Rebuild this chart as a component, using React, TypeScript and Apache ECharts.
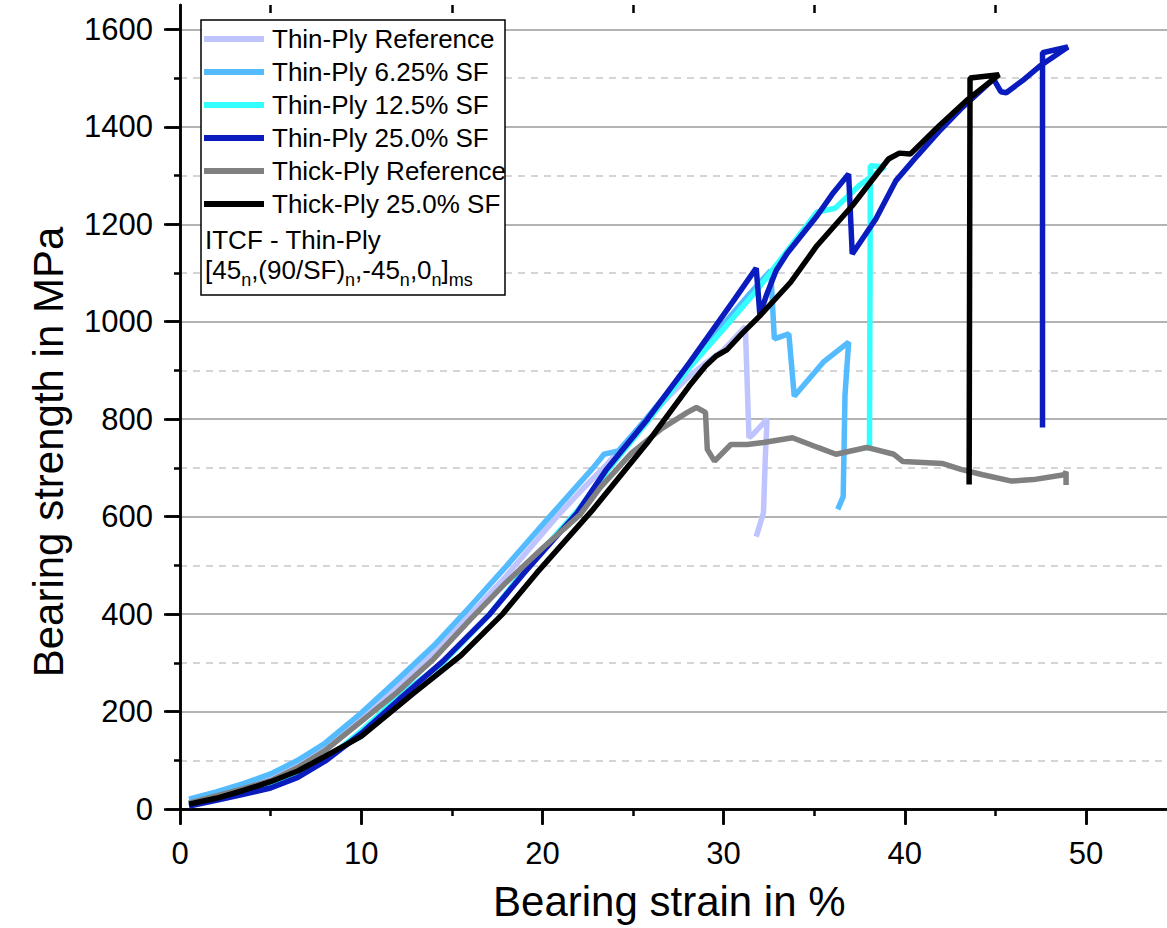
import React, { useEffect, useRef } from 'react';
import * as echarts from 'echarts';

const FONT = '"Liberation Sans", Arial, Helvetica, sans-serif';

// ---- tick values ----
const xMajorTicks = [0, 10, 20, 30, 40, 50];
const xMinorTicks = [5, 15, 25, 35, 45];
const yMajorTicks = [0, 200, 400, 600, 800, 1000, 1200, 1400, 1600];
const yMinorTicks = [100, 300, 500, 700, 900, 1100, 1300, 1500];

// ---- series names / colours ----
const seriesNames = [
  'Thin-Ply Reference',
  'Thin-Ply 6.25% SF',
  'Thin-Ply 12.5% SF',
  'Thin-Ply 25.0% SF',
  'Thick-Ply Reference',
  'Thick-Ply 25.0% SF',
];
const seriesColors = ['#BFC4FF', '#55BBFF', '#33FFFF', '#0A1CBE', '#808080', '#000000'];

// ---- data (bearing strain in %, bearing strength in MPa) ----
const thinRefStrain = [0.5, 2, 3.5, 5, 6.5, 8, 10, 12, 14, 16, 18, 20.8, 22.1, 23.5, 25, 27, 28.1, 29, 30, 31.2, 31.4, 31.6, 32.4, 32.3, 32.2, 31.8];
const thinRefStrength = [12, 28, 45, 63, 90, 128, 185, 250, 320, 398, 478, 600, 652, 705, 768, 848, 888, 915, 942, 990, 762, 768, 800, 720, 608, 559];

const thin625Strain = [0.5, 2, 3.5, 5, 6.5, 8, 10, 12, 14, 16, 18, 20.4, 22.8, 23.4, 24.2, 25.6, 27, 28.3, 30, 31.5, 32.6, 32.8, 33.6, 33.9, 35.5, 36.9, 36.7, 36.6, 36.3];
const thin625Strength = [20, 35, 52, 72, 100, 135, 197, 265, 335, 415, 498, 600, 700, 728, 735, 795, 858, 920, 995, 1060, 1105, 965, 975, 847, 917, 958, 850, 641, 615];

const thin125Strain = [0.5, 2, 3.5, 5, 6.5, 8, 10, 12.3, 14.5, 17.1, 19, 22, 23.7, 25.9, 28.1, 30, 31.8, 33.5, 35.15, 36.15, 37.5, 38.9, 38.1, 38.05];
const thin125Strength = [8, 22, 35, 47, 68, 100, 160, 238, 300, 400, 490, 615, 700, 800, 905, 985, 1063, 1145, 1225, 1233, 1280, 1318, 1320, 735];

const thin25Strain = [0.5, 2, 3.5, 5, 6.5, 8, 10, 12.3, 14.5, 17.1, 19, 21.9, 23.5, 25.8, 28.1, 30.6, 31.8, 32.0, 32.4, 32.9, 33.5, 35.15, 36.0, 36.9, 37.1, 38.4, 39.5, 40.7, 42.0, 43.1, 44.9, 45.3, 45.6, 46.5, 47.5, 49.0, 47.6, 47.6];
const thin25Strength = [6, 18, 30, 43, 65, 98, 155, 232, 303, 400, 485, 607, 695, 800, 915, 1046, 1110, 1015, 1058, 1105, 1140, 1217, 1262, 1303, 1139, 1211, 1289, 1341, 1395, 1437, 1498, 1472, 1470, 1495, 1526, 1564, 1552, 783];

const thickRefStrain = [0.5, 2, 3.5, 5, 6.5, 8, 10, 12, 14, 16, 18, 20, 22.1, 23.2, 24.9, 26.6, 28.0, 28.5, 29.0, 29.1, 29.5, 30.4, 31.3, 32.2, 33.8, 35.2, 36.2, 37.9, 39.4, 39.9, 42.1, 43.1, 44.3, 45.9, 47.1, 48.8, 48.9, 48.9];
const thickRefStrength = [12, 27, 42, 58, 85, 120, 180, 240, 308, 388, 465, 535, 605, 660, 730, 781, 814, 824, 814, 738, 714, 748, 748, 752, 762, 742, 728, 742, 728, 713, 709, 697, 686, 673, 676, 686, 692, 665];

const thick25Strain = [0.5, 2, 3.5, 5, 6.5, 8, 10, 12.9, 15.5, 17.8, 19.7, 22.8, 25.8, 28.1, 29.0, 29.6, 30.2, 31.0, 32.0, 33.7, 35.15, 37.1, 39.1, 39.7, 40.3, 41.9, 43.5, 44.9, 45.2, 43.6, 43.55];
const thick25Strength = [10, 22, 38, 56, 78, 108, 149, 238, 315, 400, 485, 615, 752, 868, 909, 930, 943, 975, 1012, 1081, 1156, 1238, 1334, 1346, 1344, 1402, 1457, 1498, 1507, 1500, 666];

const strains = [thinRefStrain, thin625Strain, thin125Strain, thin25Strain, thickRefStrain, thick25Strain];
const strengths = [thinRefStrength, thin625Strength, thin125Strength, thin25Strength, thickRefStrength, thick25Strength];

const pairs = (xs: number[], ys: number[]) => xs.map((x, i) => [x, ys[i]]);

const axisLineStyle = { color: '#000', width: 2.5 };
const tickLine = { color: '#000', width: 2.5 };
const plainNumber = (v: number) => String(v);

function buildOption() {
  const xBase = { type: 'value', min: 0, max: 55, splitLine: { show: false } };
  const yBase = { type: 'value', min: 0, max: 1650 };
  return {
    animation: false,
    backgroundColor: '#fff',
    grid: { left: 180, top: 5, width: 996.6, height: 804, containLabel: false, outerBoundsMode: 'none' },
    xAxis: [
      {
        ...xBase,
        interval: 10,
        position: 'bottom',
        axisLine: { show: true, lineStyle: axisLineStyle },
        axisTick: { show: true, inside: false, length: 15, lineStyle: tickLine, customValues: xMajorTicks },
        axisLabel: { show: true, customValues: xMajorTicks, formatter: plainNumber, fontSize: 31, fontFamily: FONT, color: '#000', margin: 29 },
        name: 'Bearing strain in %',
        nameLocation: 'middle',
        nameGap: 71,
        nameTextStyle: { fontSize: 42, fontFamily: FONT, color: '#000', padding: [0, 18, 0, 0] },
      },
      {
        ...xBase,
        interval: 5,
        position: 'bottom',
        axisLine: { show: false },
        axisTick: { show: true, inside: false, length: 7, lineStyle: tickLine, customValues: xMinorTicks },
        axisLabel: { show: false },
      },
      {
        ...xBase,
        interval: 10,
        position: 'top',
        axisLine: { show: true, lineStyle: axisLineStyle },
        axisTick: { show: true, inside: true, length: 16, lineStyle: tickLine, customValues: xMajorTicks },
        axisLabel: { show: false },
      },
      {
        ...xBase,
        interval: 5,
        position: 'top',
        axisLine: { show: false },
        axisTick: { show: true, inside: true, length: 8, lineStyle: tickLine, customValues: xMinorTicks },
        axisLabel: { show: false },
      },
    ],
    yAxis: [
      {
        ...yBase,
        interval: 200,
        position: 'left',
        axisLine: { show: true, lineStyle: axisLineStyle },
        axisTick: { show: true, inside: false, length: 14, lineStyle: tickLine, customValues: yMajorTicks },
        axisLabel: { show: true, customValues: yMajorTicks, formatter: plainNumber, fontSize: 31, fontFamily: FONT, color: '#000', margin: 27 },
        splitLine: { show: true, lineStyle: { color: '#9a9a9a', width: 1.5 } },
        name: 'Bearing strength in MPa',
        nameLocation: 'middle',
        nameGap: 111,
        nameTextStyle: { fontSize: 42, fontFamily: FONT, color: '#000', padding: [0, 90, 0, 0] },
      },
      {
        ...yBase,
        interval: 100,
        position: 'left',
        axisLine: { show: false },
        axisTick: { show: true, inside: false, length: 6, lineStyle: tickLine, customValues: yMinorTicks },
        axisLabel: { show: false },
        splitLine: { show: true, lineStyle: { color: '#c8c8c8', width: 1.5, type: [7, 6] } },
      },
      {
        ...yBase,
        interval: 200,
        position: 'right',
        axisLine: { show: true, lineStyle: axisLineStyle },
        axisTick: { show: true, inside: true, length: 16, lineStyle: tickLine, customValues: yMajorTicks },
        axisLabel: { show: false },
        splitLine: { show: false },
      },
    ],
    legend: {
      orient: 'vertical',
      left: 204,
      top: 26,
      padding: 0,
      itemWidth: 60,
      itemHeight: 6,
      itemGap: 7,
      icon: 'rect',
      selectedMode: false,
      z: 6,
      data: seriesNames,
      textStyle: { fontSize: 26, fontFamily: FONT, color: '#000', padding: [0, 0, 0, 3] },
    },
    graphic: [
      {
        type: 'rect',
        z: 3,
        shape: { x: 201, y: 20, width: 304, height: 275 },
        style: { fill: '#fff', stroke: '#000', lineWidth: 1.5 },
      },
      {
        type: 'text',
        z: 6,
        x: 205,
        y: 240,
        style: { text: 'ITCF - Thin-Ply', fontSize: 26, fontFamily: FONT, fill: '#000', verticalAlign: 'middle', align: 'left' },
      },
      {
        type: 'text',
        z: 6,
        x: 205,
        y: 270,
        style: {
          text: '[45{s|n},(90/SF){s|n},-45{s|n},0{s|n}]{s|ms}',
          fontSize: 26,
          fontFamily: FONT,
          fill: '#000',
          verticalAlign: 'middle',
          align: 'left',
          rich: {
            s: { fontSize: 18, fontFamily: FONT, fill: '#000', padding: [20, 0, 0, 0] },
          },
        },
      },
    ],
    series: seriesNames.map((name, i) => ({
      name,
      type: 'line',
      xAxisIndex: 0,
      yAxisIndex: 0,
      data: pairs(strains[i], strengths[i]),
      showSymbol: false,
      symbol: 'none',
      color: seriesColors[i],
      lineStyle: { color: seriesColors[i], width: 5.5 },
      z: 2 + i * 0.01,
    })),
  };
}

export default function App() {
  const ref = useRef<HTMLDivElement>(null);
  useEffect(() => {
    document.body.style.margin = '0';
    const chart = echarts.init(ref.current as HTMLDivElement, null, { renderer: 'svg' });
    chart.setOption(buildOption() as any);
    return () => chart.dispose();
  }, []);
  return <div ref={ref} style={{ width: 1167, height: 928, overflow: 'hidden' }} />;
}
